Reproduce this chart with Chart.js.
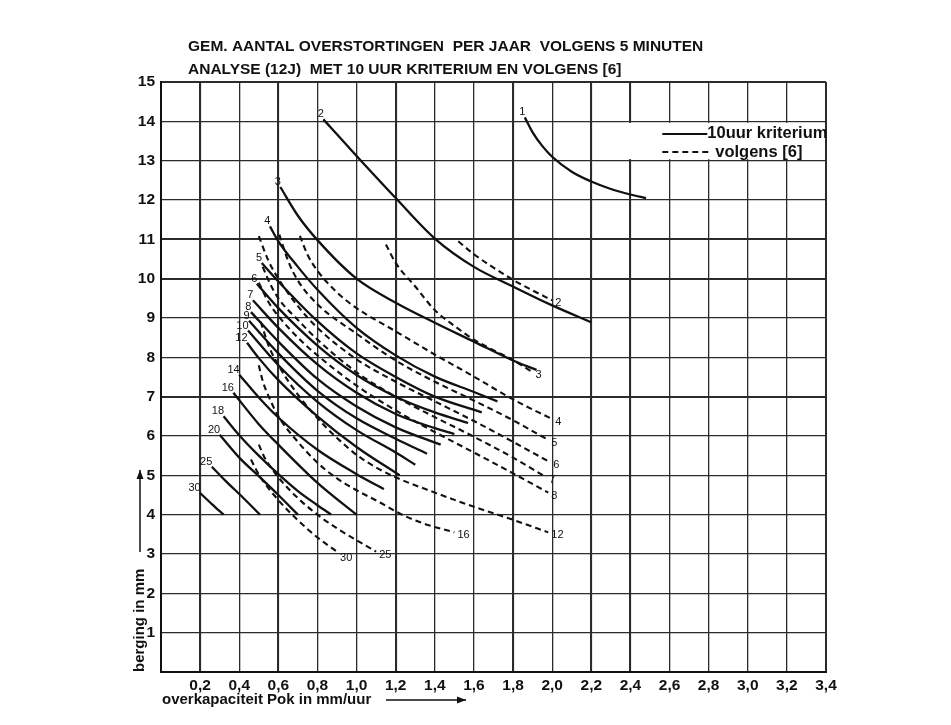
<!DOCTYPE html>
<html><head><meta charset="utf-8">
<script src="https://cdn.jsdelivr.net/npm/chart.js@4.4.1/dist/chart.umd.min.js"></script>
<style>html,body{margin:0;padding:0;background:#fff;}canvas{display:block;}</style>
</head><body>
<canvas id="c" width="951" height="725" style="width:951px;height:725px"></canvas>
<script>
// ---- axis ticks ----
const xTickValues = [0,0.2,0.4,0.6,0.8,1.0,1.2,1.4,1.6,1.8,2.0,2.2,2.4,2.6,2.8,3.0,3.2,3.4];
const xTickLabels = ['','0,2','0,4','0,6','0,8','1,0','1,2','1,4','1,6','1,8','2,0','2,2','2,4','2,6','2,8','3,0','3,2','3,4'];
const yTickValues = [0,1,2,3,4,5,6,7,8,9,10,11,12,13,14,15];
const yTickLabels = ['','1','2','3','4','5','6','7','8','9','10','11','12','13','14','15'];

const titleLines = ['GEM. AANTAL OVERSTORTINGEN  PER JAAR  VOLGENS 5 MINUTEN',
                    'ANALYSE (12J)  MET 10 UUR KRITERIUM EN VOLGENS [6]'];
const xTitle = 'overkapaciteit Pok in mm/uur';
const yTitle = 'berging in mm';
const legendSolid = '10uur kriterium';
const legendDashed = 'volgens [6]';

// ---- solid curves (10 uur kriterium): [Pok, berging] ----
const solid1  = [[1.86,14.1],[1.9,13.72],[1.95,13.37],[2.0,13.1],[2.1,12.72],[2.2,12.47],[2.3,12.28],[2.4,12.14],[2.48,12.05]];
const solid2  = [[0.83,14.05],[1.0,13.12],[1.2,12.05],[1.4,11.02],[1.6,10.3],[1.8,9.8],[2.0,9.32],[2.2,8.89]];
const solid3  = [[0.61,12.33],[0.7,11.6],[0.8,10.98],[1.0,10.0],[1.2,9.39],[1.4,8.88],[1.6,8.4],[1.8,7.92],[1.92,7.68]];
const solid4  = [[0.557,11.33],[0.6,10.95],[0.7,10.3],[0.8,9.72],[1.0,8.75],[1.2,8.05],[1.4,7.51],[1.6,7.12],[1.72,6.88]];
const solid5  = [[0.515,10.4],[0.6,9.93],[0.8,8.92],[1.0,8.1],[1.2,7.5],[1.4,7.0],[1.64,6.6]];
const solid6  = [[0.49,9.87],[0.6,9.25],[0.8,8.3],[1.0,7.55],[1.2,7.0],[1.4,6.6],[1.57,6.33]];
const solid7  = [[0.47,9.45],[0.6,8.75],[0.8,7.82],[1.0,7.1],[1.2,6.56],[1.4,6.2],[1.5,6.05]];
const solid8  = [[0.46,9.15],[0.6,8.4],[0.8,7.45],[1.0,6.75],[1.2,6.22],[1.43,5.78]];
const solid9  = [[0.45,8.93],[0.6,8.1],[0.8,7.15],[1.0,6.45],[1.2,5.93],[1.36,5.55]];
const solid10 = [[0.445,8.68],[0.6,7.8],[0.8,6.87],[1.0,6.15],[1.2,5.58],[1.30,5.27]];
const solid12 = [[0.44,8.37],[0.5,7.98],[0.6,7.42],[0.8,6.5],[1.0,5.72],[1.22,5.0]];
const solid14 = [[0.40,7.56],[0.5,6.98],[0.6,6.47],[0.8,5.65],[1.0,5.03],[1.14,4.65]];
const solid16 = [[0.37,7.1],[0.5,6.3],[0.6,5.78],[0.8,4.81],[1.0,4.0]];
const solid18 = [[0.32,6.5],[0.4,6.02],[0.5,5.5],[0.6,5.03],[0.7,4.6],[0.8,4.24],[0.87,4.0]];
const solid20 = [[0.30,6.03],[0.4,5.45],[0.5,4.98],[0.6,4.5],[0.7,4.0]];
const solid25 = [[0.26,5.22],[0.33,4.86],[0.42,4.43],[0.506,4.0]];
const solid30 = [[0.2,4.55],[0.26,4.27],[0.32,4.0]];

// ---- dashed curves (volgens [6]) ----
const dashed2  = [[1.52,10.95],[1.6,10.62],[1.7,10.28],[1.8,9.97],[1.9,9.7],[2.0,9.45]];
const dashed3  = [[1.15,10.87],[1.2,10.4],[1.3,9.8],[1.4,9.2],[1.5,8.8],[1.6,8.45],[1.7,8.18],[1.8,7.93],[1.9,7.62]];
const dashed4  = [[0.71,11.09],[0.75,10.6],[0.8,10.2],[0.9,9.65],[1.0,9.25],[1.2,8.66],[1.4,8.07],[1.6,7.51],[1.8,6.93],[2.0,6.43]];
const dashed5  = [[0.605,11.12],[0.65,10.45],[0.7,9.95],[0.8,9.35],[1.0,8.6],[1.2,7.92],[1.4,7.38],[1.6,6.9],[1.8,6.4],[1.98,5.9]];
const dashed6  = [[0.50,11.08],[0.55,10.45],[0.6,10.0],[0.7,9.3],[0.8,8.75],[1.0,7.95],[1.2,7.38],[1.4,6.88],[1.6,6.38],[1.8,5.85],[1.99,5.33]];
const dashed7  = [[0.52,10.3],[0.56,9.85],[0.6,9.5],[0.7,8.95],[0.8,8.45],[1.0,7.62],[1.2,7.0],[1.4,6.48],[1.6,5.98],[1.8,5.45],[1.97,4.95]];
const dashed8  = [[0.5,9.9],[0.55,9.4],[0.6,9.05],[0.7,8.5],[0.8,8.05],[1.0,7.28],[1.2,6.65],[1.4,6.1],[1.6,5.58],[1.8,5.05],[1.98,4.56]];
const dashed12 = [[0.51,8.9],[0.55,8.3],[0.6,7.8],[0.7,7.05],[0.8,6.45],[0.9,5.95],[1.0,5.52],[1.1,5.2],[1.2,4.95],[1.4,4.56],[1.6,4.2],[1.8,3.87],[1.98,3.55]];
const dashed16 = [[0.5,7.8],[0.52,7.4],[0.56,6.9],[0.6,6.5],[0.7,5.85],[0.8,5.32],[0.9,4.92],[1.0,4.62],[1.12,4.31],[1.22,4.03],[1.34,3.78],[1.5,3.55]];
const dashed25 = [[0.5,5.78],[0.53,5.45],[0.6,4.95],[0.7,4.42],[0.8,4.0],[0.9,3.65],[1.0,3.35],[1.1,3.06]];
const dashed30 = [[0.46,5.4],[0.5,5.02],[0.6,4.37],[0.7,3.86],[0.8,3.42],[0.9,3.06]];

const solidSeries = [solid1,solid2,solid3,solid4,solid5,solid6,solid7,solid8,solid9,solid10,solid12,solid14,solid16,solid18,solid20,solid25,solid30];
const solidLabels = ['1','2','3','4','5','6','7','8','9','10','12','14','16','18','20','25','30'];
const dashedSeries = [dashed2,dashed3,dashed4,dashed5,dashed6,dashed7,dashed8,dashed12,dashed16,dashed25,dashed30];
const dashedLabels = ['2','3','4','5','6','7','8','12','16','25','30'];

// ---- build datasets ----
const INK = '#111';
const datasets = [];
solidSeries.forEach((s,i)=>datasets.push({
  label:'s'+solidLabels[i], curveLabel:solidLabels[i], kind:'solid',
  data:s.map(p=>({x:p[0],y:p[1]})),
  borderColor:INK, borderWidth:2.3, pointRadius:0, fill:false,
  cubicInterpolationMode:'monotone', borderDash:[]
}));
dashedSeries.forEach((s,i)=>datasets.push({
  label:'d'+dashedLabels[i], curveLabel:dashedLabels[i], kind:'dashed',
  data:s.map(p=>({x:p[0],y:p[1]})),
  borderColor:INK, borderWidth:2.1, pointRadius:0, fill:false,
  cubicInterpolationMode:'monotone', borderDash:[6,4]
}));

const FONT = '"Liberation Sans", Arial, Helvetica, sans-serif';
const thickX = [1,3,6,9,11,12];
const thickY = [7,10,11];

function arrow(ctx,x0,y0,x1,y1){
  ctx.beginPath(); ctx.moveTo(x0,y0); ctx.lineTo(x1,y1); ctx.stroke();
  const a = Math.atan2(y1-y0,x1-x0), L=9, W=3.5;
  ctx.beginPath();
  ctx.moveTo(x1,y1);
  ctx.lineTo(x1-L*Math.cos(a)+W*Math.sin(a), y1-L*Math.sin(a)-W*Math.cos(a));
  ctx.lineTo(x1-L*Math.cos(a)-W*Math.sin(a), y1-L*Math.sin(a)+W*Math.cos(a));
  ctx.closePath(); ctx.fill();
}

const deco = {
  id:'deco',
  beforeDraw(chart){
    const ctx=chart.ctx; ctx.save(); ctx.fillStyle='#fff'; ctx.fillRect(0,0,chart.width,chart.height); ctx.restore();
  },
  beforeDatasetsDraw(chart){
    const {ctx, chartArea:ca, scales:{x,y}} = chart;
    ctx.save(); ctx.fillStyle='#fff';
    const x0=x.getPixelForValue(2.37), x1=ca.right-1.5;
    const y0=y.getPixelForValue(14)+1.5, y1=y.getPixelForValue(13)-1.5;
    ctx.fillRect(x0,y0,x1-x0,y1-y0);
    ctx.restore();
  },
  afterDatasetsDraw(chart){
    const {ctx, scales:{x,y}} = chart;
    ctx.save();
    ctx.fillStyle=INK; ctx.font='11px '+FONT;
    chart.data.datasets.forEach(ds=>{
      if(ds.kind==='solid'){
        const p=ds.data[0];
        ctx.textAlign='right'; ctx.textBaseline='middle';
        ctx.fillText(ds.curveLabel, x.getPixelForValue(p.x)+0.5, y.getPixelForValue(p.y)-5);
      } else {
        const p=ds.data[ds.data.length-1];
        ctx.textAlign='left'; ctx.textBaseline='middle';
        const dy = ds.curveLabel==='30' ? 6 : 3;
        ctx.fillText(ds.curveLabel, x.getPixelForValue(p.x)+3, y.getPixelForValue(p.y)+dy);
      }
    });
    // legend
    const ly1=y.getPixelForValue(13.68), ly2=y.getPixelForValue(13.22);
    const lx0=x.getPixelForValue(2.563), lx1=x.getPixelForValue(2.793);
    ctx.strokeStyle=INK; ctx.lineWidth=2;
    ctx.beginPath(); ctx.moveTo(lx0,ly1); ctx.lineTo(lx1,ly1); ctx.stroke();
    ctx.setLineDash([6,4]);
    ctx.beginPath(); ctx.moveTo(lx0,ly2); ctx.lineTo(lx1+3,ly2); ctx.stroke();
    ctx.setLineDash([]);
    ctx.font='bold 16.5px '+FONT; ctx.textAlign='left'; ctx.textBaseline='middle';
    ctx.fillText(legendSolid, lx1, ly1);
    ctx.fillText(legendDashed, lx1+8, ly2);
    ctx.restore();
  },
  afterDraw(chart){
    const {ctx, chartArea:ca} = chart;
    ctx.save(); ctx.fillStyle=INK; ctx.strokeStyle=INK;
    ctx.font='bold 15.5px '+FONT; ctx.textAlign='left'; ctx.textBaseline='middle';
    ctx.fillText(titleLines[0], 188, 47);
    ctx.fillText(titleLines[1], 188, 70);
    ctx.font='bold 15px '+FONT;
    ctx.fillText(xTitle, ca.left+1, 700);
    ctx.lineWidth=1.5;
    arrow(ctx, 386, 700, 466, 700);
    ctx.save(); ctx.translate(140, 672); ctx.rotate(-Math.PI/2);
    ctx.textAlign='left'; ctx.fillText(yTitle, 0, 0); ctx.restore();
    arrow(ctx, 140, 552, 140, 470);
    ctx.restore();
  }
};

new Chart(document.getElementById('c'), {
  type:'line',
  data:{datasets},
  plugins:[deco],
  options:{
    responsive:false, animation:false, devicePixelRatio:1,
    layout:{padding:{top:82,right:125,left:0,bottom:0}},
    plugins:{legend:{display:false}, title:{display:false}, tooltip:{enabled:false}},
    elements:{line:{tension:0.4}},
    scales:{
      x:{type:'linear', min:0, max:3.4,
        afterBuildTicks:s=>{s.ticks=xTickValues.map(v=>({value:v}));},
        afterFit:s=>{s.height=53;},
        ticks:{autoSkip:false, maxRotation:0, padding:4, color:INK,
          font:{family:FONT, size:15.5, weight:'bold'},
          callback:(v,i)=>xTickLabels[i]},
        grid:{drawTicks:false, color:'#2b2b2b',
          lineWidth:c=>(c.index===0||c.index===xTickValues.length-1)?2:(thickX.includes(c.index)?2.1:1.3)},
        border:{display:true,color:'#111',width:2}
      },
      y:{type:'linear', min:0, max:15,
        afterBuildTicks:s=>{s.ticks=yTickValues.map(v=>({value:v}));},
        afterFit:s=>{s.width=161;},
        ticks:{padding:6, color:INK, font:{family:FONT, size:15.5, weight:'bold'},
          callback:(v,i)=>yTickLabels[i]},
        grid:{drawTicks:false, color:'#2b2b2b',
          lineWidth:c=>(c.index===0||c.index===yTickValues.length-1)?2:(thickY.includes(c.index)?2.1:1.3)},
        border:{display:true,color:'#111',width:2}
      }
    }
  }
});
</script></body></html>
